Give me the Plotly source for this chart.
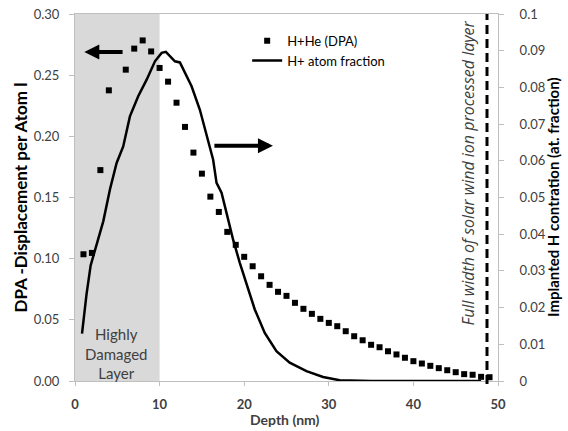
import plotly.graph_objects as go

# ---- data ----
dpa_depth = [1, 2, 3, 4, 6, 7, 8, 9, 10, 11, 12, 13, 14, 15, 16, 17, 18, 19, 20,
             21, 22, 23, 24, 25, 26, 27, 28, 29, 30, 31, 32, 33, 34, 35, 36, 37,
             38, 39, 40, 41, 42, 43, 44, 45, 46, 47, 48, 49]
dpa_value = [0.1036, 0.1047, 0.1724, 0.2376, 0.2545, 0.2717, 0.2784, 0.2694, 0.2559,
             0.2447, 0.2275, 0.2077, 0.1867, 0.1695, 0.1507, 0.1382, 0.1219, 0.1113,
             0.1015, 0.0938, 0.0856, 0.0786, 0.0729, 0.0696, 0.0639, 0.0590, 0.0549,
             0.0508, 0.0475, 0.0448, 0.0407, 0.0366, 0.0333, 0.0296, 0.0276, 0.0243,
             0.0217, 0.0190, 0.0162, 0.0143, 0.0124, 0.0105, 0.0088, 0.0072, 0.0056,
             0.0051, 0.0034, 0.0031]

h_depth = [0.83, 1.36, 1.85, 2.56, 3.34, 4.13, 4.92, 5.70, 6.49, 7.47, 8.47, 9.45,
           10.24, 10.74, 11.22, 11.81, 12.40, 12.99, 13.78, 14.76, 15.74, 16.33,
           16.73, 17.32, 17.91, 18.69, 19.48, 20.27, 21.25, 22.43, 23.81, 25.38,
           27.36, 29.32, 31.29, 35.0, 40.0, 45.0, 48.0]
h_frac = [0.0129, 0.0236, 0.0315, 0.0372, 0.0435, 0.0522, 0.0594, 0.0639, 0.0721,
          0.0776, 0.0821, 0.0871, 0.0894, 0.0897, 0.0885, 0.0871, 0.0868, 0.0839,
          0.0803, 0.0739, 0.0658, 0.0603, 0.0540, 0.0513, 0.0458, 0.0385, 0.0322,
          0.0263, 0.0195, 0.0131, 0.0081, 0.0050, 0.0027, 0.0011, 0.0002, 0.0,
          0.0, 0.0, 0.0]

damaged_depth = 10          # nm, shaded "Highly Damaged Layer"
layer_width = 48.7          # nm, dashed line
left_arrow = (5.8, 1.1, 0.269)     # tail x, tip x, y (DPA axis)
right_arrow = (16.3, 23.4, 0.1924)

FONT = "Lato, Open Sans, sans-serif"
GRAY = "#bfbfbf"
TXT = "#404040"

fig = go.Figure()

fig.add_trace(go.Scatter(
    x=dpa_depth, y=dpa_value, mode="markers", name="H+He (DPA)",
    marker=dict(symbol="square", size=6, color="black"),
    yaxis="y"))
fig.add_trace(go.Scatter(
    x=h_depth, y=h_frac, mode="lines", name="H+ atom fraction",
    line=dict(color="black", width=2.5), yaxis="y2"))

fig.add_shape(type="rect", xref="x", yref="y", x0=0, x1=damaged_depth, y0=0, y1=0.30,
              fillcolor="#d9d9d9", line=dict(width=0), layer="below")
fig.add_shape(type="line", xref="x", yref="paper", x0=layer_width, x1=layer_width,
              y0=-0.008, y1=1, line=dict(color="black", width=3, dash="9px,5px"))

fig.add_annotation(x=left_arrow[1], y=left_arrow[2], ax=left_arrow[0], ay=left_arrow[2],
                   xref="x", yref="y", axref="x", ayref="y", text="", showarrow=True,
                   arrowhead=2, arrowwidth=4, arrowsize=0.75, arrowcolor="black")
fig.add_annotation(x=right_arrow[1], y=right_arrow[2], ax=right_arrow[0], ay=right_arrow[2],
                   xref="x", yref="y", axref="x", ayref="y", text="", showarrow=True,
                   arrowhead=2, arrowwidth=4, arrowsize=0.75, arrowcolor="black")

fig.add_annotation(x=4.9, y=0.0225, xref="x", yref="y", text="Highly<br>Damaged<br>Layer",
                   showarrow=False, xanchor="center", yanchor="middle",
                   font=dict(family=FONT, size=15, color=TXT))
fig.add_annotation(x=46.5, y=0.170, xref="x", yref="y",
                   text="<i>Full width of solar wind ion processed layer</i>",
                   textangle=-90, showarrow=False, xanchor="center", yanchor="middle",
                   font=dict(family="Open Sans", size=16, color=TXT))

# axis titles
fig.add_annotation(x=-0.130, y=0.5, xref="paper", yref="paper",
                   text="<b>DPA -Displacement per Atom l</b>", textangle=-90,
                   showarrow=False, xanchor="center", yanchor="middle",
                   font=dict(family=FONT, size=17, color="black"))
fig.add_annotation(x=1.1287, y=0.5, xref="paper", yref="paper",
                   text="<b>Implanted H contration (at. fraction)</b>", textangle=-90,
                   showarrow=False, xanchor="center", yanchor="middle",
                   font=dict(family=FONT, size=15, color="black"))
fig.add_annotation(x=0.497, y=-0.105, xref="paper", yref="paper",
                   text="<b>Depth (nm)</b>", showarrow=False,
                   xanchor="center", yanchor="middle",
                   font=dict(family=FONT, size=14, color=TXT))

fig.update_layout(
    width=568, height=431,
    margin=dict(l=75, r=70, t=14, b=50, autoexpand=False),
    paper_bgcolor="white", plot_bgcolor="white",
    font=dict(family=FONT, color="black"),
    showlegend=True,
    legend=dict(x=0.407, y=0.968, xanchor="left", yanchor="top",
                bgcolor="rgba(0,0,0,0)", font=dict(size=13, color="black"),
                tracegroupgap=0),
    xaxis=dict(range=[0, 50], dtick=10, showgrid=False, zeroline=False,
               showline=True, linecolor=GRAY, linewidth=1, mirror=True,
               ticks="outside", ticklen=4, tickcolor=GRAY, automargin=False,
               ticklabelstandoff=7,
               tickfont=dict(size=13, color=TXT, weight="bold")),
    yaxis=dict(range=[0, 0.30], dtick=0.05, tickformat=".2f", showgrid=False,
               zeroline=False, showline=True, linecolor=GRAY, linewidth=1,
               ticks="outside", ticklen=5, tickcolor=GRAY, automargin=False,
               ticklabelstandoff=7,
               tickfont=dict(size=13, color=TXT)),
    yaxis2=dict(range=[0, 0.1], dtick=0.01, overlaying="y", side="right",
                showgrid=False, zeroline=False, showline=True, linecolor=GRAY,
                linewidth=1, ticks="outside", ticklen=5, tickcolor=GRAY,
                automargin=False, ticklabelstandoff=13,
                tickfont=dict(size=13, color=TXT)),
)

fig.write_html("out.html", config={"displayModeBar": False},
               post_script="document.body.style.margin='0';")
